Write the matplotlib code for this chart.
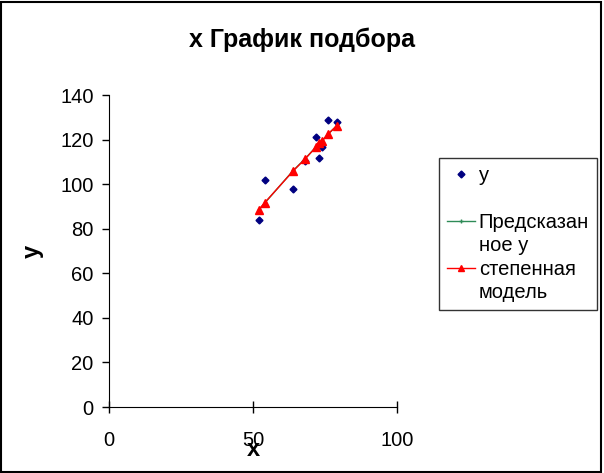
import matplotlib
matplotlib.use('Agg')
import matplotlib.pyplot as plt
from matplotlib.lines import Line2D
from matplotlib.patches import Rectangle

plt.rcParams['font.family'] = ['Liberation Sans', 'DejaVu Sans']

# data
x = [52, 54, 64, 68, 72, 73, 74, 76, 79]
y = [84, 102, 98, 110.5, 121, 111.6, 116.8, 129, 128]
y_pred = [88.2, 91.4, 106.2, 111.3, 116.9, 118.3, 119.5, 122.4, 126.0]
y_power = [88.6, 91.6, 106.0, 111.2, 116.8, 118.3, 119.4, 122.4, 126.2]

title = 'x График подбора'
labels = ['y', 'Предсказанное y', 'степенная модель']

fig = plt.figure(figsize=(6.04, 4.73), dpi=100)
ax = fig.add_axes([0.1805, 0.1395, 0.4768, 0.6596])

ax.plot(x, y, linestyle='none', marker='D', ms=3.5, color='#000080')
ax.plot(x, y_pred, color='#2E8B57', lw=1, marker='+', ms=3)
ax.plot(x, y_power, color='red', lw=1, marker='^', ms=5.5)

ax.set_xlim(0, 100)
ax.set_ylim(0, 140)
ax.set_xticks([0, 50, 100])
ax.set_yticks(range(0, 141, 20))
ax.spines['top'].set_visible(False)
ax.spines['right'].set_visible(False)
ax.tick_params(axis='x', direction='inout', length=9, width=1, pad=13, labelsize=14.5)
ax.tick_params(axis='y', direction='out', length=5, width=1, pad=6, labelsize=14.5)

ax.set_xlabel('x', fontsize=17, fontweight='bold')
ax.xaxis.set_label_coords(0.5, -0.1)
ax.set_ylabel('y', fontsize=17, fontweight='bold')
ax.yaxis.set_label_coords(-0.225, 0.5)

fig.suptitle(title, x=0.5, y=0.915, va='center', fontsize=18, fontweight='bold')

# legend rows like the Excel one (wrapped labels)
blank = Line2D([], [], linestyle='none')
handles = [
    Line2D([], [], linestyle='none', marker='D', ms=3.5, color='#000080'),
    blank,
    Line2D([], [], color='#2E8B57', lw=1, marker='+', ms=3),
    blank,
    Line2D([], [], color='red', lw=1, marker='^', ms=5),
    blank,
]
texts = [labels[0], '', 'Предсказан', 'ное y', 'степенная', 'модель']
leg = fig.legend(handles, texts, loc='upper left',
                 bbox_to_anchor=(0.7268, 0.0, 0.2616, 0.666), mode='expand',
                 fontsize=14.5, frameon=True, fancybox=False, edgecolor='black',
                 handlelength=1.4, handletextpad=0.17, labelspacing=0.22,
                 borderpad=0.4, borderaxespad=0)
leg.get_frame().set_linewidth(1)

# outer chart border
fig.add_artist(Rectangle((0.001, 0.002), 0.994, 0.994, transform=fig.transFigure,
                         fill=False, edgecolor='black', lw=1.5))

fig.savefig('out.png', dpi=100)
